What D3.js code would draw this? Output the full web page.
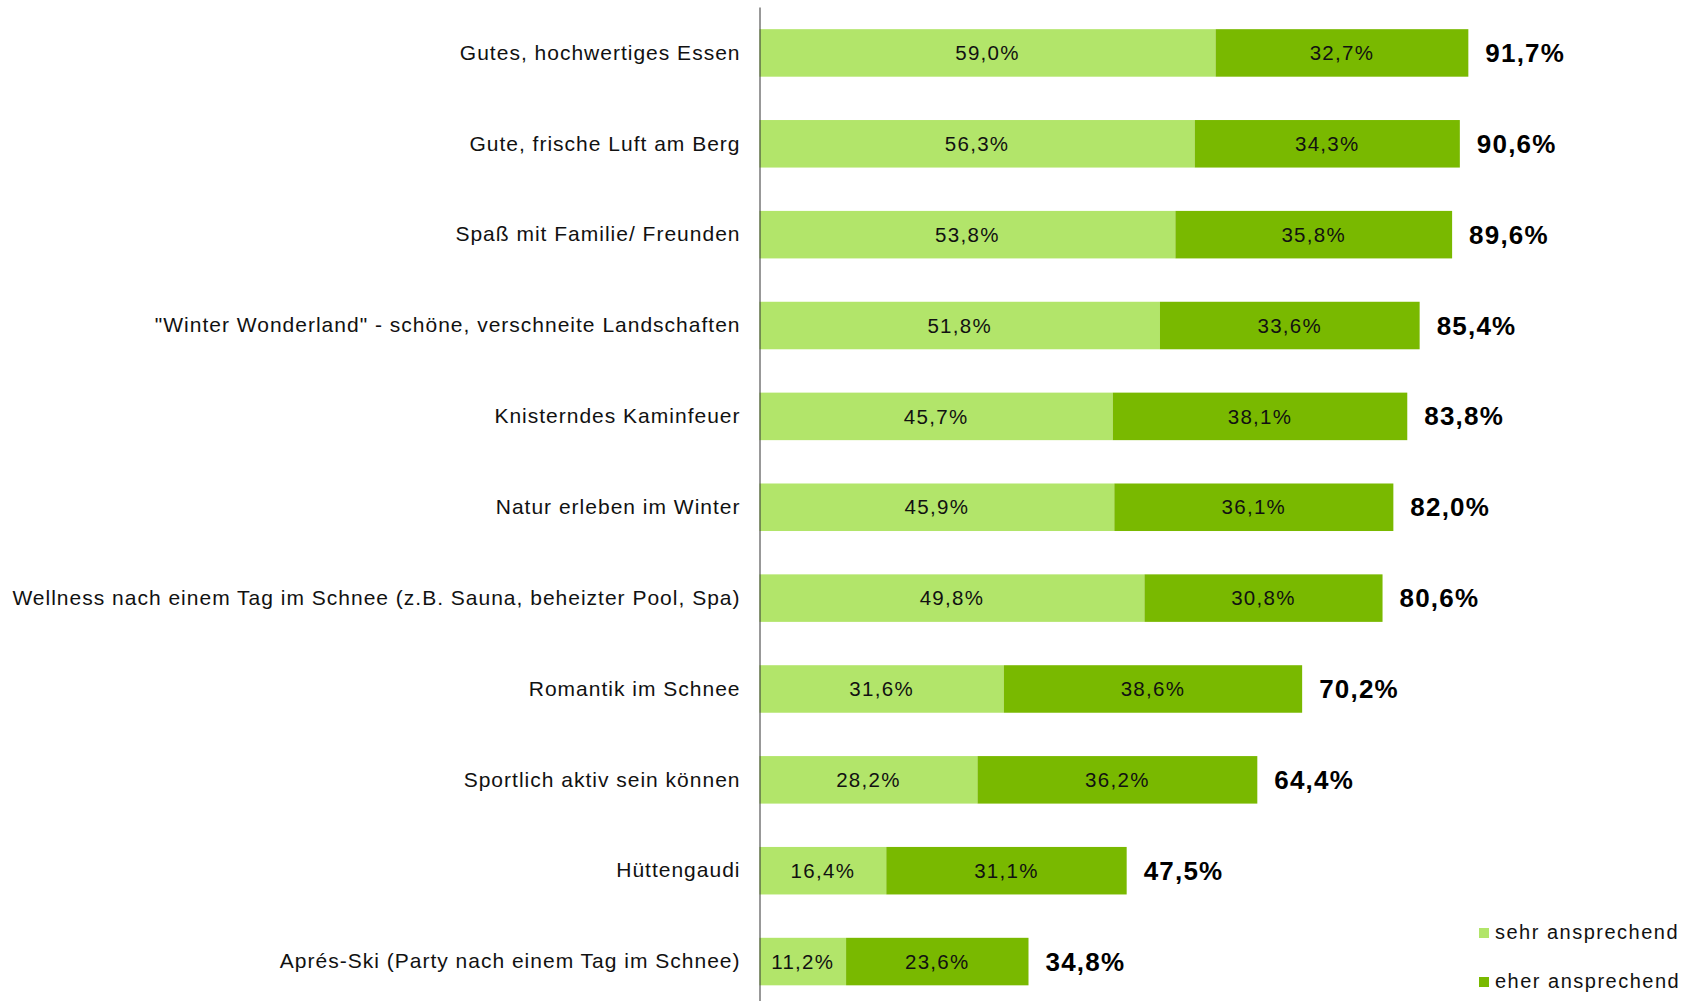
<!DOCTYPE html>
<html>
<head>
<meta charset="utf-8">
<script src="https://cdn.jsdelivr.net/npm/d3@7"></script>
<style>
  body { margin: 0; background: #fff; }
  svg text { font-family: "Liberation Sans", Arial, sans-serif; }
</style>
</head>
<body>
<div id="chart"></div>
<script>
// data
var categories = [
  "Gutes, hochwertiges Essen",
  "Gute, frische Luft am Berg",
  "Spaß mit Familie/ Freunden",
  "\"Winter Wonderland\" - schöne, verschneite Landschaften",
  "Knisterndes Kaminfeuer",
  "Natur erleben im Winter",
  "Wellness nach einem Tag im Schnee (z.B. Sauna, beheizter Pool, Spa)",
  "Romantik im Schnee",
  "Sportlich aktiv sein können",
  "Hüttengaudi",
  "Aprés-Ski (Party nach einem Tag im Schnee)"
];
var sehr = [59.0, 56.3, 53.8, 51.8, 45.7, 45.9, 49.8, 31.6, 28.2, 16.4, 11.2];
var eher = [32.7, 34.3, 35.8, 33.6, 38.1, 36.1, 30.8, 38.6, 36.2, 31.1, 23.6];
var totals = [91.7, 90.6, 89.6, 85.4, 83.8, 82.0, 80.6, 70.2, 64.4, 47.5, 34.8];
var seriesNames = ["sehr ansprechend", "eher ansprechend"];

var width = 1694, height = 1001;
var colors = ["#b2e56a", "#79b900"];

var svg = d3.select("#chart").append("svg")
  .attr("width", width)
  .attr("height", height);

var x = d3.scaleLinear().domain([0, 100]).range([759.5, 1532.5]);
var y = d3.scaleBand().domain(categories).range([7.5, 1007])
  .paddingInner(0.477).paddingOuter(0.2385);

var fmt = function (v) { return d3.format(".1f")(v).replace(".", ",") + "%"; };

var rows = categories.map(function (c, i) {
  return { cat: c, sehr: sehr[i], eher: eher[i], total: totals[i] };
});

var stack = d3.stack().keys(["sehr", "eher"])(rows);

// bars
var layers = svg.selectAll("g.layer")
  .data(stack)
  .enter().append("g")
  .attr("class", "layer")
  .attr("fill", function (d, i) { return colors[i]; });

layers.selectAll("rect")
  .data(function (d) { return d; })
  .enter().append("rect")
  .attr("x", function (d) { return x(d[0]); })
  .attr("y", function (d) { return y(d.data.cat); })
  .attr("width", function (d) { return x(d[1]) - x(d[0]); })
  .attr("height", y.bandwidth());

// values inside bars
layers.selectAll("text")
  .data(function (d) { return d; })
  .enter().append("text")
  .attr("x", function (d) { return (x(d[0]) + x(d[1])) / 2; })
  .attr("y", function (d) { return y(d.data.cat) + y.bandwidth() / 2; })
  .attr("dy", "0.35em")
  .attr("text-anchor", "middle")
  .attr("fill", "#111")
  .style("font-size", "20.5px")
  .style("letter-spacing", "1.3px")
  .text(function (d) { return fmt(d[1] - d[0]); });

// totals
svg.selectAll("text.total")
  .data(rows)
  .enter().append("text")
  .attr("class", "total")
  .attr("x", function (d) { return x(d.sehr + d.eher) + 17; })
  .attr("y", function (d) { return y(d.cat) + y.bandwidth() / 2; })
  .attr("dy", "0.35em")
  .attr("fill", "#000")
  .style("font-size", "26px")
  .style("font-weight", "bold")
  .style("letter-spacing", "1.2px")
  .text(function (d) { return fmt(d.total); });

// category axis
var yAxis = svg.append("g")
  .attr("transform", "translate(" + x(0) + ",0)")
  .call(d3.axisLeft(y).tickSize(0).tickPadding(19));
yAxis.select(".domain").attr("d", "M0.5,7.5V1001").attr("stroke", "#333");
yAxis.selectAll("text")
  .attr("fill", "#111")
  .style("font-size", "21px")
  .style("letter-spacing", "1px")
  .style("font-family", "'Liberation Sans', Arial, sans-serif");

// legend
var legend = svg.selectAll("g.legend")
  .data(seriesNames)
  .enter().append("g")
  .attr("class", "legend")
  .attr("transform", function (d, i) { return "translate(1479," + (928 + i * 49) + ")"; });

legend.append("rect")
  .attr("width", 10).attr("height", 10)
  .attr("fill", function (d, i) { return colors[i]; });

legend.append("text")
  .attr("x", 16).attr("y", 11)
  .attr("fill", "#111")
  .style("font-size", "20px")
  .style("letter-spacing", "1.5px")
  .text(function (d) { return d; });
</script>
</body>
</html>
